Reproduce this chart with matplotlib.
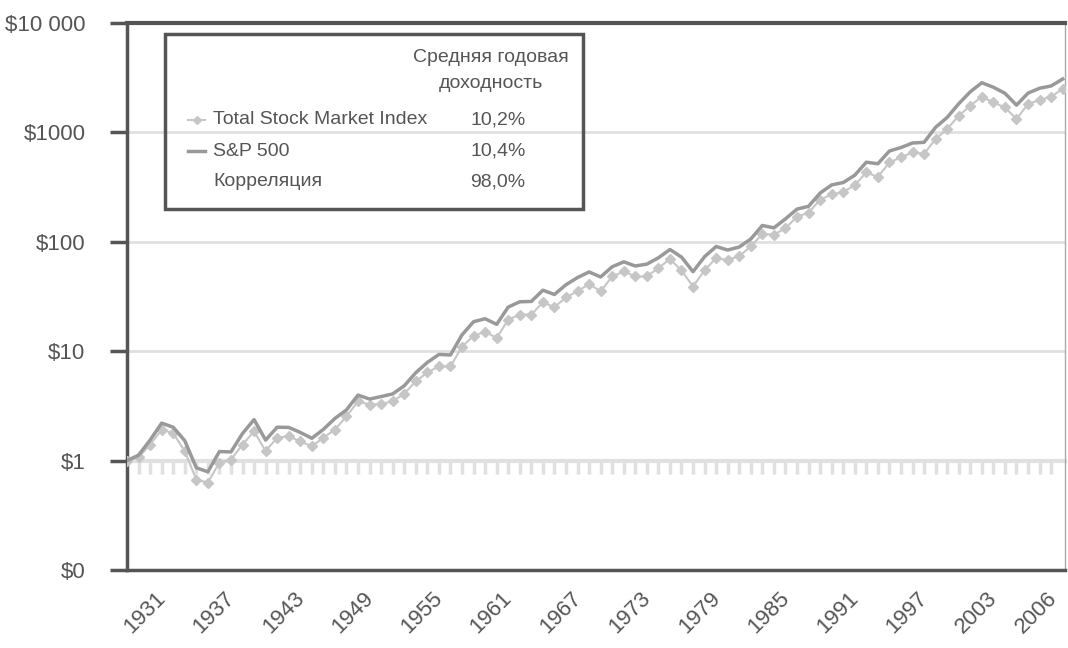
import numpy as np
import matplotlib
matplotlib.use('Agg')
import matplotlib.pyplot as plt
from matplotlib import font_manager
from matplotlib.lines import Line2D
from matplotlib.patches import Rectangle
from matplotlib.ticker import NullLocator, FixedLocator

names = {f.name for f in font_manager.fontManager.ttflist}
fam = 'Liberation Sans' if 'Liberation Sans' in names else 'DejaVu Sans'
plt.rcParams['font.family'] = [fam, 'DejaVu Sans']

# данные: стоимость $1, вложенного в конце 1925 г.
years = np.arange(1925, 2007)
sp500 = [1.00, 1.12, 1.54, 2.20, 2.02, 1.52, 0.86, 0.79, 1.21, 1.20,
         1.77, 2.37, 1.54, 2.02, 2.01, 1.81, 1.60, 1.93, 2.43, 2.91,
         3.97, 3.65, 3.85, 4.07, 4.83, 6.36, 7.89, 9.34, 9.24, 14.1,
         18.6, 19.8, 17.6, 25.3, 28.3, 28.5, 36.1, 33.0, 40.5, 47.1,
         53.0, 47.7, 59.1, 65.6, 60.1, 62.5, 71.4, 85.0, 72.5, 53.3,
         73.1, 90.6, 84.1, 89.6, 106, 141, 134, 162, 199, 211,
         279, 331, 348, 406, 534, 517, 676, 727, 800, 811,
         1114, 1371, 1828, 2351, 2846, 2587, 2279, 1775, 2285, 2533,
         2658, 3077]
tsm = [1.00, 1.07, 1.40, 1.92, 1.78, 1.22, 0.67, 0.63, 0.96, 1.02,
       1.40, 1.85, 1.22, 1.62, 1.67, 1.50, 1.35, 1.62, 1.92, 2.54,
       3.48, 3.25, 3.29, 3.48, 4.09, 5.30, 6.40, 7.26, 7.26, 11.0,
       13.8, 15.1, 13.2, 19.4, 21.6, 21.6, 27.9, 25.3, 31.0, 35.3,
       41.1, 35.3, 48.2, 53.6, 48.2, 48.2, 57.6, 69.4, 54.8, 39.0,
       55.0, 71.0, 68.0, 74.0, 90.6, 118, 116, 133, 170, 184,
       243, 271, 285, 330, 430, 392, 532, 591, 656, 638,
       870, 1074, 1420, 1754, 2120, 1880, 1692, 1325, 1817, 1977,
       2120, 2500]

label_years = [1931, 1937, 1943, 1949, 1955, 1961, 1967, 1973, 1979,
               1985, 1991, 1997, 2003, 2006]
ytick_vals = [0.1, 1, 10, 100, 1000, 10000]
ytick_labels = [r'\$0', r'\$1', r'\$10', r'\$100', r'\$1000', r'\$10 000']

series_names = ['Total Stock Market Index', 'S&P 500', 'Корреляция']
series_pct = ['10,2%', '10,4%', '98,0%']

dark = '#555555'
c_sp = '#999999'
c_tsm = '#c6c6c6'
c_grid = '#e0e0e0'

W, H = 1068, 648
fig = plt.figure(figsize=(W / 100, H / 100), dpi=100)
ax = fig.add_axes([127 / W, 1 - 570 / H, (1065 - 127) / W, (570 - 23) / H])

ax.set_yscale('log')
ax.set_ylim(0.1, 10000)
ax.set_xlim(1925, 2006.2)

ax.plot(years, tsm, color=c_tsm, lw=1.5, marker='D', ms=5, mec=c_tsm, mfc=c_tsm, zorder=3)
ax.plot(years, sp500, color=c_sp, lw=2.5, zorder=4)

ax.yaxis.set_major_locator(FixedLocator(ytick_vals))
ax.yaxis.set_minor_locator(NullLocator())
ax.set_yticklabels(ytick_labels)
ax.tick_params(axis='y', direction='out', length=12, width=2.5, color=dark,
               labelsize=16, labelcolor=dark, pad=18)
ax.grid(axis='y', color=c_grid, lw=2)

# подписи лет (смещены, как на оригинале)
pos = [y - 2.3 for y in label_years[:-1]] + [label_years[-1] - 0.1]
ax.set_xticks(pos)
ax.set_xticklabels([str(y) for y in label_years], rotation=45, ha='right')
ax.tick_params(axis='x', length=0, labelsize=16, labelcolor=dark, pad=13)

for s in ['left', 'bottom']:
    ax.spines[s].set_color(dark)
    ax.spines[s].set_linewidth(2.5)
ax.spines['top'].set_color(dark)
ax.spines['top'].set_linewidth(3)
ax.spines['right'].set_color('#aaaaaa')
ax.spines['right'].set_linewidth(1)

# ось на уровне $1 с годовыми засечками
sec = ax.secondary_xaxis(0.2)
sec.spines['bottom'].set_color(c_grid)
sec.spines['bottom'].set_linewidth(3)
sec.set_xticks(years[1:-1])
sec.tick_params(direction='out', length=9, width=2.5, color=c_grid, labelbottom=False)

# легенда
def fx(x):
    return x / W

def fy(y):
    return 1 - y / H

fig.add_artist(Rectangle((fx(165), fy(209)), fx(583) - fx(165), fy(34) - fy(209),
                         transform=fig.transFigure, fill=False, ec=dark, lw=2.5, zorder=10))
fig.text(fx(491), fy(58), 'Средняя годовая', ha='center', va='center', fontsize=14, color=dark)
fig.text(fx(491), fy(84), 'доходность', ha='center', va='center', fontsize=14, color=dark)
rows_y = [120, 151, 182]
for name, pct, yy in zip(series_names, series_pct, rows_y):
    fig.text(fx(213), fy(yy), name, ha='left', va='center', fontsize=14, color=dark)
    fig.text(fx(470), fy(yy), pct, ha='left', va='center', fontsize=14, color=dark)
fig.add_artist(Line2D([fx(188), fx(205)], [fy(120), fy(120)], transform=fig.transFigure,
                      color=c_tsm, lw=1.5))
fig.add_artist(Line2D([fx(196.5)], [fy(120)], transform=fig.transFigure,
                      color=c_tsm, marker='D', ms=4, lw=0))
fig.add_artist(Line2D([fx(188), fx(205)], [fy(151), fy(151)], transform=fig.transFigure,
                      color=c_sp, lw=2.5))

fig.savefig('out.png', dpi=100)
